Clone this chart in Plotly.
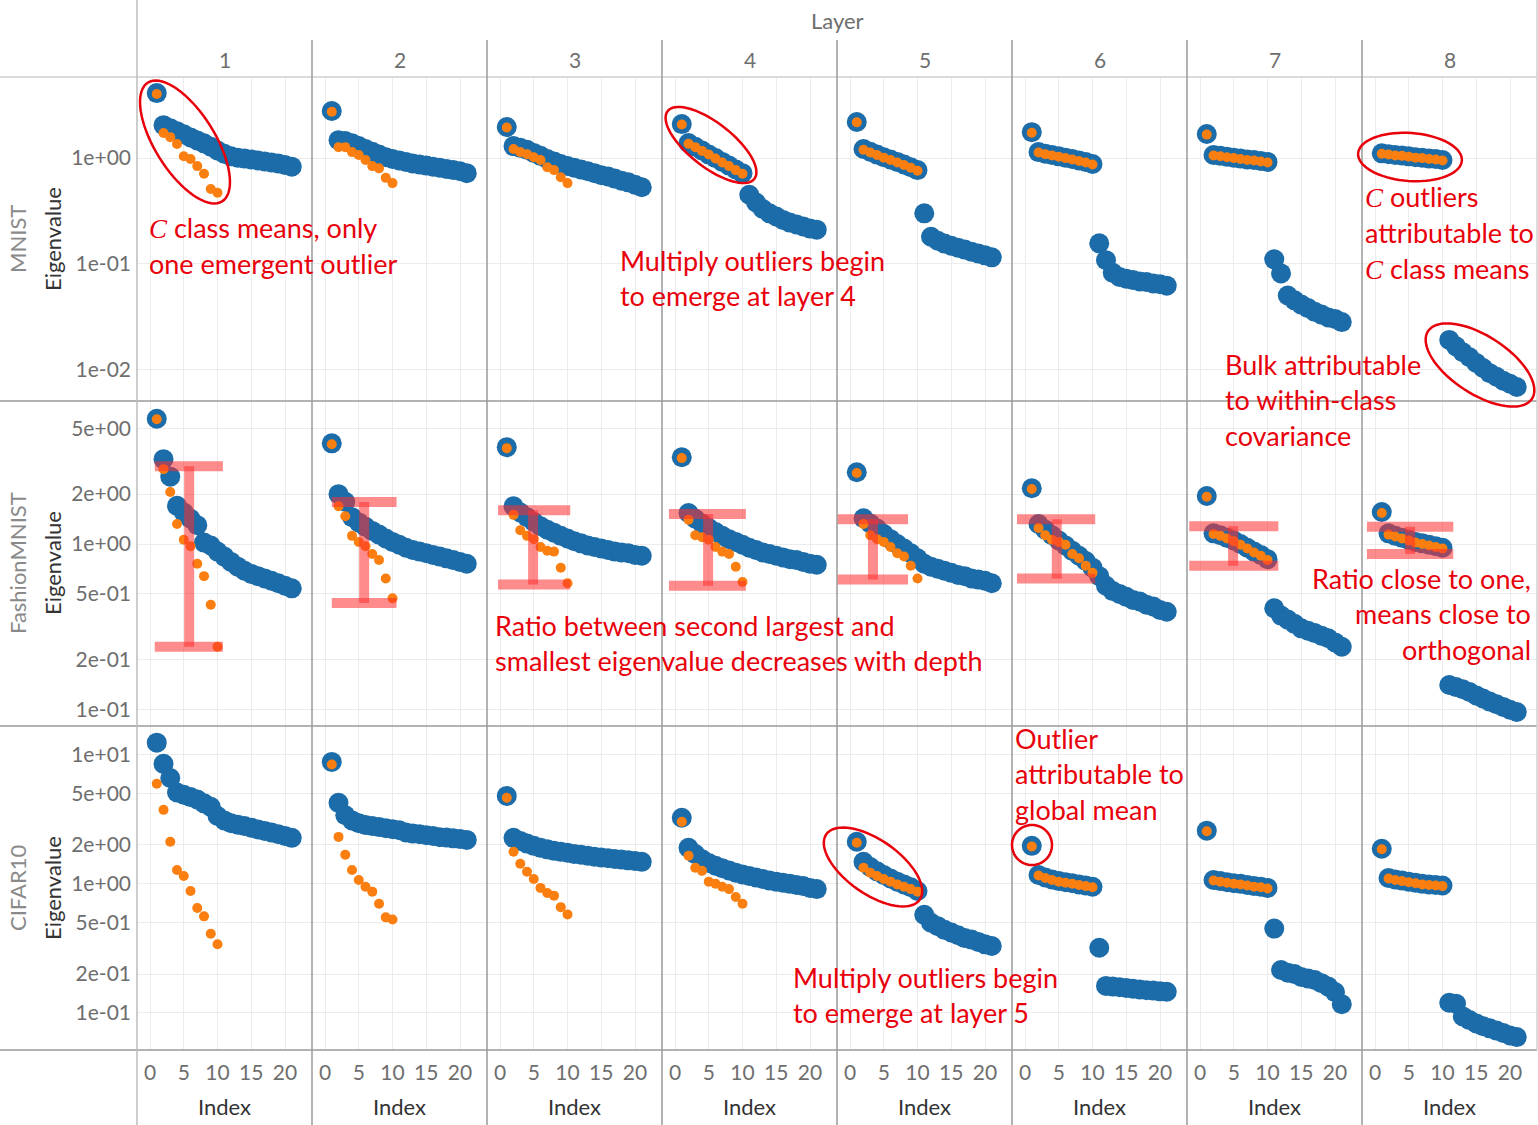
import math
import plotly.graph_objects as go
from plotly.subplots import make_subplots

# ---- data -------------------------------------------------------------
layers = [1, 2, 3, 4, 5, 6, 7, 8]
datasets = ["MNIST", "FashionMNIST", "CIFAR10"]
index_all = list(range(1, 22))
index_means = list(range(1, 11))

mnist_eig = [
    [4.13, 2.05, 1.92, 1.8, 1.68, 1.57, 1.47, 1.38, 1.28, 1.18, 1.1, 1.04, 1.01, 0.99, 0.97, 0.95, 0.93, 0.91, 0.89, 0.86, 0.83],
    [2.79, 1.48, 1.45, 1.38, 1.3, 1.22, 1.15, 1.08, 1.02, 0.98, 0.95, 0.92, 0.89, 0.87, 0.85, 0.83, 0.81, 0.79, 0.77, 0.75, 0.72],
    [1.97, 1.30, 1.25, 1.2, 1.12, 1.05, 0.98, 0.93, 0.88, 0.84, 0.81, 0.78, 0.75, 0.72, 0.69, 0.67, 0.64, 0.61, 0.59, 0.56, 0.53],
    [2.1, 1.39, 1.28, 1.18, 1.08, 1.0, 0.92, 0.85, 0.78, 0.72, 0.45, 0.38, 0.33, 0.30, 0.28, 0.26, 0.245, 0.235, 0.225, 0.215, 0.21],
    [2.2, 1.22, 1.15, 1.08, 1.02, 0.97, 0.92, 0.87, 0.82, 0.77, 0.30, 0.18, 0.165, 0.155, 0.148, 0.142, 0.136, 0.13, 0.125, 0.12, 0.115],
    [1.76, 1.14, 1.1, 1.07, 1.04, 1.01, 0.98, 0.95, 0.92, 0.88, 0.156, 0.108, 0.082, 0.075, 0.072, 0.07, 0.068, 0.067, 0.065, 0.064, 0.062],
    [1.69, 1.07, 1.05, 1.03, 1.01, 0.99, 0.97, 0.96, 0.94, 0.92, 0.11, 0.081, 0.05, 0.045, 0.041, 0.038, 0.035, 0.033, 0.031, 0.03, 0.028],
    [1.11, 1.09, 1.07, 1.06, 1.04, 1.02, 1.01, 0.99, 0.98, 0.96, 0.019, 0.0165, 0.0145, 0.013, 0.0115, 0.0103, 0.0092, 0.0085, 0.0078, 0.0073, 0.0068],
]
mnist_means = [
    [4.05, 1.73, 1.58, 1.36, 1.04, 0.98, 0.84, 0.71, 0.51, 0.47],
    [2.75, 1.27, 1.27, 1.14, 1.07, 0.96, 0.84, 0.80, 0.65, 0.58],
    [1.95, 1.22, 1.14, 1.09, 1.02, 0.96, 0.82, 0.77, 0.66, 0.58],
    [2.08, 1.37, 1.27, 1.17, 1.08, 0.99, 0.91, 0.84, 0.77, 0.71],
    [2.18, 1.2, 1.13, 1.07, 1.01, 0.96, 0.91, 0.86, 0.81, 0.76],
    [1.74, 1.13, 1.09, 1.06, 1.03, 1.0, 0.97, 0.94, 0.91, 0.87],
    [1.67, 1.06, 1.04, 1.02, 1.0, 0.98, 0.96, 0.95, 0.93, 0.91],
    [1.1, 1.08, 1.06, 1.05, 1.03, 1.01, 1.0, 0.98, 0.97, 0.95],
]

fmnist_eig = [
    [5.7, 3.25, 2.55, 1.7, 1.55, 1.42, 1.3, 1.02, 0.98, 0.9, 0.84, 0.78, 0.73, 0.69, 0.66, 0.64, 0.62, 0.6, 0.58, 0.56, 0.54],
    [4.05, 2.0, 1.8, 1.45, 1.35, 1.27, 1.2, 1.14, 1.08, 1.03, 0.99, 0.95, 0.92, 0.9, 0.88, 0.86, 0.84, 0.82, 0.8, 0.78, 0.76],
    [3.84, 1.69, 1.55, 1.45, 1.36, 1.28, 1.22, 1.17, 1.12, 1.08, 1.04, 1.01, 0.98, 0.96, 0.94, 0.92, 0.9, 0.89, 0.88, 0.86, 0.85],
    [3.34, 1.54, 1.42, 1.33, 1.25, 1.18, 1.12, 1.07, 1.03, 0.99, 0.95, 0.92, 0.89, 0.87, 0.85, 0.83, 0.81, 0.8, 0.78, 0.76, 0.75],
    [2.71, 1.43, 1.33, 1.24, 1.15, 1.07, 1.0, 0.94, 0.88, 0.82, 0.76, 0.73, 0.71, 0.69, 0.67, 0.65, 0.64, 0.62, 0.61, 0.6, 0.58],
    [2.17, 1.32, 1.22, 1.13, 1.05, 0.98, 0.91, 0.85, 0.79, 0.72, 0.64, 0.56, 0.52, 0.5, 0.48, 0.46, 0.45, 0.43, 0.42, 0.4, 0.39],
    [1.95, 1.16, 1.13, 1.09, 1.05, 1.0, 0.95, 0.9, 0.86, 0.81, 0.41, 0.37, 0.35, 0.33, 0.31, 0.3, 0.29, 0.28, 0.27, 0.255, 0.24],
    [1.56, 1.16, 1.12, 1.09, 1.06, 1.03, 1.01, 0.99, 0.97, 0.95, 0.141, 0.137, 0.133, 0.128, 0.122, 0.117, 0.112, 0.108, 0.104, 0.1, 0.097],
]
fmnist_means = [
    [5.66, 2.83, 2.06, 1.32, 1.06, 0.97, 0.76, 0.64, 0.43, 0.24],
    [4.0, 1.69, 1.47, 1.12, 1.03, 0.97, 0.87, 0.8, 0.62, 0.47],
    [3.79, 1.5, 1.21, 1.12, 1.07, 0.96, 0.91, 0.9, 0.72, 0.58],
    [3.3, 1.4, 1.13, 1.1, 1.06, 0.96, 0.9, 0.87, 0.73, 0.59],
    [2.68, 1.32, 1.13, 1.07, 1.03, 0.96, 0.88, 0.84, 0.74, 0.62],
    [2.15, 1.25, 1.13, 1.06, 1.03, 0.99, 0.87, 0.82, 0.74, 0.67],
    [1.93, 1.15, 1.12, 1.08, 1.04, 0.99, 0.94, 0.89, 0.85, 0.8],
    [1.54, 1.14, 1.11, 1.08, 1.05, 1.02, 1.0, 0.98, 0.96, 0.94],
]

cifar_eig = [
    [12.4, 8.5, 6.6, 5.1, 4.9, 4.7, 4.5, 4.2, 3.95, 3.35, 3.1, 2.95, 2.87, 2.8, 2.72, 2.64, 2.57, 2.5, 2.42, 2.35, 2.27],
    [8.8, 4.24, 3.4, 3.1, 2.95, 2.85, 2.8, 2.75, 2.7, 2.65, 2.6, 2.5, 2.45, 2.42, 2.38, 2.35, 2.3, 2.28, 2.25, 2.22, 2.19],
    [4.8, 2.27, 2.15, 2.05, 1.97, 1.9, 1.85, 1.8, 1.77, 1.74, 1.7, 1.68, 1.65, 1.62, 1.6, 1.58, 1.56, 1.54, 1.52, 1.5, 1.48],
    [3.25, 1.9, 1.7, 1.55, 1.45, 1.38, 1.32, 1.27, 1.22, 1.18, 1.15, 1.12, 1.09, 1.06, 1.04, 1.02, 1.0, 0.98, 0.96, 0.93, 0.91],
    [2.12, 1.48, 1.35, 1.25, 1.17, 1.1, 1.04, 0.99, 0.94, 0.88, 0.575, 0.5, 0.47, 0.44, 0.42, 0.4, 0.38, 0.37, 0.355, 0.34, 0.33],
    [1.97, 1.17, 1.12, 1.08, 1.05, 1.03, 1.01, 0.99, 0.97, 0.95, 0.32, 0.162, 0.16, 0.158, 0.156, 0.154, 0.152, 0.15, 0.149, 0.147, 0.146],
    [2.58, 1.07, 1.05, 1.03, 1.01, 1.0, 0.98, 0.96, 0.95, 0.93, 0.45, 0.215, 0.205, 0.2, 0.19, 0.185, 0.18, 0.17, 0.16, 0.145, 0.117],
    [1.87, 1.11, 1.08, 1.06, 1.04, 1.02, 1.0, 0.99, 0.98, 0.97, 0.12, 0.118, 0.094, 0.088, 0.083, 0.079, 0.076, 0.073, 0.07, 0.067, 0.065],
]
cifar_means = [
    [5.96, 3.74, 2.12, 1.28, 1.15, 0.88, 0.65, 0.56, 0.41, 0.34],
    [8.4, 2.31, 1.68, 1.28, 1.07, 0.95, 0.87, 0.7, 0.55, 0.53],
    [4.64, 1.77, 1.43, 1.24, 1.09, 0.93, 0.85, 0.81, 0.66, 0.58],
    [3.02, 1.65, 1.33, 1.26, 1.04, 1.0, 0.95, 0.91, 0.79, 0.7],
    [2.08, 1.33, 1.22, 1.15, 1.09, 1.04, 0.99, 0.95, 0.91, 0.87],
    [1.95, 1.16, 1.11, 1.07, 1.04, 1.02, 1.0, 0.98, 0.96, 0.94],
    [2.55, 1.06, 1.04, 1.02, 1.0, 0.99, 0.97, 0.95, 0.94, 0.92],
    [1.85, 1.1, 1.07, 1.05, 1.03, 1.01, 0.99, 0.98, 0.97, 0.96],
]

# red "H" bars on FashionMNIST: second largest vs smallest class-mean eigenvalue
ratio_top = [2.95, 1.79, 1.6, 1.52, 1.41, 1.41, 1.28, 1.27]
ratio_bottom = [0.24, 0.44, 0.57, 0.56, 0.61, 0.62, 0.74, 0.87]
bar_left = [0.7, 1.0, -0.3, -0.9, -1.9, -1.2, -1.6, -1.2]
bar_right = [10.8, 10.6, 10.4, 10.5, 8.6, 10.4, 11.6, 11.6]
bar_mid = [5.8, 5.8, 4.9, 4.9, 3.4, 4.7, 4.9, 5.2]

eig_rows = [mnist_eig, fmnist_eig, cifar_eig]
mean_rows = [mnist_means, fmnist_means, cifar_means]

y_ranges = [[-2.303, 0.768], [-1.096, 0.861], [-1.287, 1.225]]
y_ticks = [
    [1, 0.1, 0.01],
    [5, 2, 1, 0.5, 0.2, 0.1],
    [10, 5, 2, 1, 0.5, 0.2, 0.1],
]
y_ticktext = [
    ["1e+00", "1e-01", "1e-02"],
    ["5e+00", "2e+00", "1e+00", "5e-01", "2e-01", "1e-01"],
    ["1e+01", "5e+00", "2e+00", "1e+00", "5e-01", "2e-01", "1e-01"],
]

# ---- style ------------------------------------------------------------
BLUE = "#1b6ca8"
ORANGE = "#fb7f10"
RED = "#e8000b"
BAR = "rgba(255,45,45,0.55)"
GRID = "#ececec"
TICK = "#6e6e6e"
FONT = "Lato"
C_ITAL = '<span style="font-family:Liberation Serif;font-style:italic">C</span>'

W, H = 1538, 1125
PL, PT, PR, PB = 137, 77, 1537, 1050  # plot area in pixels


def px(x):
    return (x - PL) / (PR - PL)


def py(y):
    return (PB - y) / (PB - PT)


fig = make_subplots(rows=3, cols=8, horizontal_spacing=0, vertical_spacing=0)

for r in range(3):
    for c in range(8):
        fig.add_trace(go.Scatter(
            x=index_all, y=eig_rows[r][c], mode="markers",
            marker=dict(size=20, color=BLUE, line=dict(width=0)),
            hoverinfo="x+y"), row=r + 1, col=c + 1)
        fig.add_trace(go.Scatter(
            x=index_means, y=mean_rows[r][c], mode="markers",
            marker=dict(size=10, color=ORANGE, line=dict(width=0)),
            hoverinfo="x+y"), row=r + 1, col=c + 1)
        if r == 1:
            for xs, ys in [
                ([bar_left[c], bar_right[c]], [ratio_top[c], ratio_top[c]]),
                ([bar_left[c], bar_right[c]], [ratio_bottom[c], ratio_bottom[c]]),
                ([bar_mid[c], bar_mid[c]], [ratio_bottom[c], ratio_top[c]]),
            ]:
                fig.add_trace(go.Scatter(
                    x=xs, y=ys, mode="lines", line=dict(color=BAR, width=10),
                    hoverinfo="skip"), row=r + 1, col=c + 1)

        fig.update_xaxes(
            range=[-1.93, 24], tickvals=[0, 5, 10, 15, 20],
            showgrid=True, gridcolor=GRID, gridwidth=1, zeroline=False,
            showline=False, ticks="", showticklabels=(r == 2),
            tickfont=dict(family=FONT, size=21, color=TICK),
            ticklabelstandoff=8,
            row=r + 1, col=c + 1)
        fig.update_yaxes(
            type="log", range=y_ranges[r], tickvals=y_ticks[r],
            ticktext=y_ticktext[r], showgrid=True, gridcolor=GRID,
            zeroline=False, showline=False, ticks="",
            showticklabels=(c == 0),
            tickfont=dict(family=FONT, size=21, color=TICK),
            ticklabelstandoff=5,
            row=r + 1, col=c + 1)

shapes = []
LINE = "#9a9a9a"
# header line and row separators
shapes.append(dict(type="line", xref="paper", yref="paper", x0=px(0), x1=1,
                   y0=py(PT), y1=py(PT), line=dict(color="#cfcfcf", width=1.5)))
for yy in [401, 726, 1050]:
    shapes.append(dict(type="line", xref="paper", yref="paper", x0=px(0), x1=1,
                       y0=py(yy), y1=py(yy), line=dict(color=LINE, width=1.5)))
# left edge of the panels, column separators, right edge
shapes.append(dict(type="line", xref="paper", yref="paper", x0=0, x1=0,
                   y0=py(0), y1=py(H), line=dict(color="#bdbdbd", width=1.5)))
for c in range(1, 8):
    shapes.append(dict(type="line", xref="paper", yref="paper", x0=c / 8, x1=c / 8,
                       y0=py(40), y1=py(H), line=dict(color=LINE, width=1.5)))
shapes.append(dict(type="line", xref="paper", yref="paper", x0=1, x1=1,
                   y0=py(0), y1=py(PB), line=dict(color="#cfcfcf", width=1.5)))


def ellipse(cx, cy, a, b, ang):
    t = math.radians(ang)
    pts = []
    for k in range(73):
        s = 2 * math.pi * k / 72
        ex, ey = a * math.cos(s), b * math.sin(s)
        x = cx + ex * math.cos(t) - ey * math.sin(t)
        y = cy + ex * math.sin(t) + ey * math.cos(t)
        pts.append(f"{px(x):.5f},{py(y):.5f}")
    return dict(type="path", xref="paper", yref="paper",
                path="M " + " L ".join(pts) + " Z",
                line=dict(color=RED, width=2.5))


shapes += [
    ellipse(185, 142, 70, 30, 58),
    ellipse(711, 145, 55, 22, 38),
    ellipse(1410, 157, 52, 24, 4),
    ellipse(1480, 365, 62, 29, 33),
    ellipse(873, 867, 57, 27, 35),
    ellipse(1032, 845, 20, 20, 0),
]

ann = []


def label(text, x, y, size, color, angle=0):
    ann.append(dict(text=text, x=px(x), y=py(y), xref="paper", yref="paper",
                    xanchor="center", yanchor="middle", textangle=angle,
                    showarrow=False, font=dict(family=FONT, size=size, color=color)))


# header
label("Layer", (PL + PR) / 2, 20, 22, TICK)
for c, lay in enumerate(layers):
    xc = PL + (c + 0.5) * (PR - PL) / 8
    label(str(lay), xc, 59, 21, TICK)
    label("Index", xc, 1106, 22, "#333333")
# row labels
for r, name in enumerate(datasets):
    yc = [239, 563, 888][r]
    label(name, 17, yc, 22, "#8a8a8a", -90)
    label("Eigenvalue", 52, yc, 22, "#333333", -90)


def note(lines, x, y0, anchor="left"):
    for i, line in enumerate(lines):
        ann.append(dict(text=line, x=px(x), y=py(y0 + 35.5 * i), xref="paper", yref="paper",
                        xanchor=anchor, yanchor="middle", showarrow=False,
                        font=dict(family=FONT, size=27, color=RED)))


note([C_ITAL + " class means, only", "one emergent outlier"], 147, 228)
note(["Multiply outliers begin", "to emerge at layer 4"], 618, 260)
note([C_ITAL + " outliers", "attributable to", C_ITAL + " class means"], 1363, 197)
note(["Bulk attributable", "to within-class", "covariance"], 1223, 364)
note(["Ratio between second largest and", "smallest eigenvalue decreases with depth"], 493, 625)
note(["Ratio close to one,", "means close to", "orthogonal"], 1533, 578, anchor="right")
note(["Outlier", "attributable to", "global mean"], 1013, 738)
note(["Multiply outliers begin", "to emerge at layer 5"], 791, 977)

fig.update_layout(
    width=W, height=H,
    margin=dict(l=PL, r=W - PR, t=PT, b=H - PB),
    plot_bgcolor="white", paper_bgcolor="white",
    showlegend=False, shapes=shapes, annotations=ann,
    font=dict(family=FONT),
)

fig.write_html("out.html", config={"displayModeBar": False},
               post_script="document.body.style.margin='0px';")
